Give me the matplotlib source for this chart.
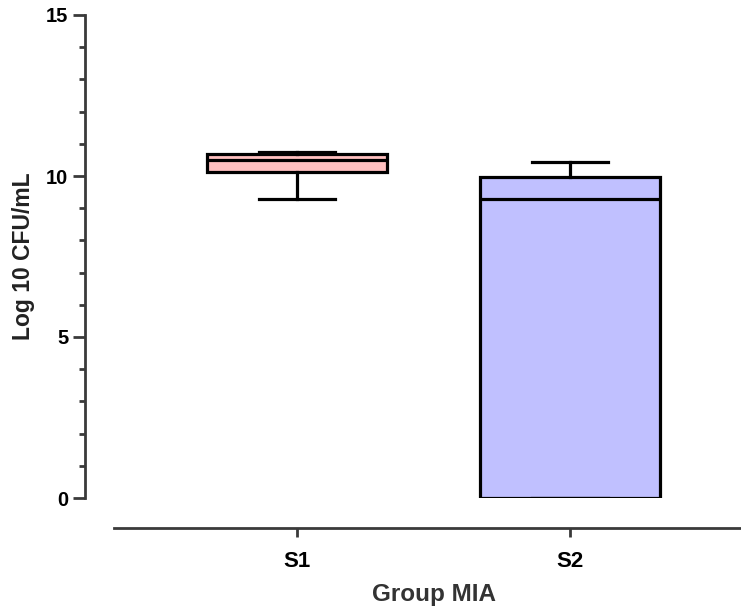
import matplotlib
matplotlib.use("Agg")
import matplotlib.pyplot as plt
from matplotlib.ticker import MultipleLocator

plt.rcParams['font.family'] = ['Liberation Sans', 'DejaVu Sans']
plt.rcParams['font.weight'] = 'bold'

# data (Log10 CFU/mL)
groups = ['S1', 'S2']
whisker_low = [9.28, 0.0]
q1 = [10.11, 0.0]
medians = [10.50, 9.28]
q3 = [10.67, 9.98]
whisker_high = [10.74, 10.44]
colors = ['#FFC0C0', '#C0C0FF']

axis_col = '#3a3a3a'

fig = plt.figure(figsize=(7.41, 6.11), dpi=100)
W, H = 741, 611
ax = fig.add_axes([85 / W, (H - 498) / H, (W - 85) / W, (498 - 15) / H])

stats = []
for i, g in enumerate(groups):
    stats.append(dict(label=g, whislo=whisker_low[i], q1=q1[i], med=medians[i],
                      q3=q3[i], whishi=whisker_high[i], fliers=[]))

bp = ax.bxp(stats, positions=[1, 2], widths=0.66, capwidths=0.275,
            patch_artist=True, showfliers=False,
            boxprops=dict(linewidth=2.3, edgecolor='black'),
            medianprops=dict(color='black', linewidth=2.3),
            whiskerprops=dict(color='black', linewidth=2.3),
            capprops=dict(color='black', linewidth=2.3))
for patch, c in zip(bp['boxes'], colors):
    patch.set_facecolor(c)

ax.set_ylim(0, 15)
ax.set_xlim(1 - 212 / 273, 2 + 171 / 273)
ax.yaxis.set_major_locator(MultipleLocator(5))
ax.yaxis.set_minor_locator(MultipleLocator(1))

for s in ['top', 'right']:
    ax.spines[s].set_visible(False)
ax.spines['left'].set_linewidth(2)
ax.spines['left'].set_color(axis_col)
ax.spines['bottom'].set_linewidth(2)
ax.spines['bottom'].set_color(axis_col)
ax.spines['bottom'].set_position(('outward', 21.4))
ax.spines['bottom'].set_bounds(1 - 183 / 273, 2 + 171 / 273)

ax.tick_params(axis='y', which='major', length=8.6, width=2, color=axis_col,
               labelsize=14.5, pad=3.5)
ax.tick_params(axis='y', which='minor', length=4.5, width=2, color=axis_col)
ax.tick_params(axis='x', length=6.5, width=2, color=axis_col, labelsize=16, pad=10)

ax.set_ylabel('Log 10 CFU/mL', fontsize=16.5, fontweight='bold', color='#222222')
ax.yaxis.set_label_coords((35 - 85) / 656, 0.5)
ax.set_xlabel('Group MIA', fontsize=17.5, fontweight='bold', color='#333333')
ax.xaxis.set_label_coords((434 - 85) / 656, -(583 - 498) / 483)

fig.savefig('out.png', dpi=100)
